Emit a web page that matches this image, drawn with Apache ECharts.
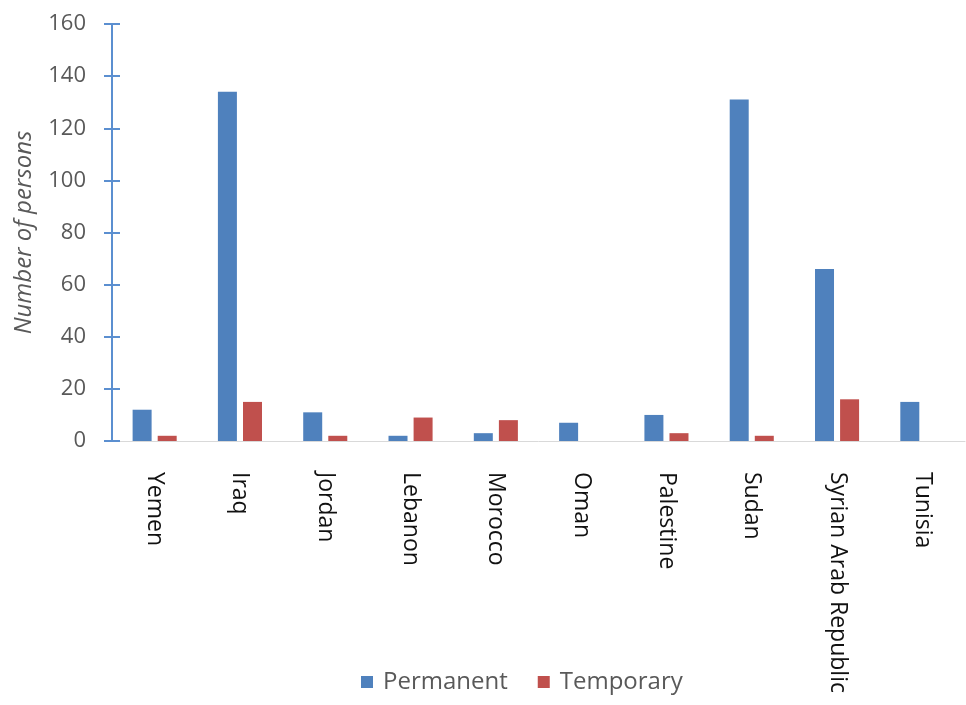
<!DOCTYPE html>
<html>
<head>
<meta charset="utf-8">
<script src="https://cdn.jsdelivr.net/npm/echarts@6/dist/echarts.min.js"></script>
<style>
  html, body { margin: 0; padding: 0; background: #fff; }
  #chart { width: 966px; height: 705px; }
</style>
</head>
<body>
<div id="chart"></div>
<script>
const countries = ['Yemen', 'Iraq', 'Jordan', 'Lebanon', 'Morocco', 'Oman', 'Palestine', 'Sudan', 'Syrian Arab Republic', 'Tunisia'];
const permanent = [12, 134, 11, 2, 3, 7, 10, 131, 66, 15];
const temporary = [2, 15, 2, 9, 8, 0, 3, 2, 16, 0];
const yTicks = { min: 0, max: 160, interval: 20 };

const chart = echarts.init(document.getElementById('chart'), null, { renderer: 'canvas' });

const fontFamily = '"Open Sans", "Noto Sans", sans-serif';

chart.setOption({
  backgroundColor: '#fff',
  animation: false,
  textStyle: { fontFamily: fontFamily },
  grid: { left: 112, right: 1, top: 24, bottom: 264, containLabel: false, outerBoundsMode: 'none' },
  legend: {
    left: 356,
    top: 665,
    itemWidth: 12,
    itemHeight: 12,
    itemGap: 30,
    icon: 'rect',
    textStyle: { fontSize: 24, color: '#595959', fontFamily: fontFamily, padding: [0, 0, 0, 5] },
    data: ['Permanent', 'Temporary']
  },
  xAxis: {
    type: 'category',
    data: countries,
    axisLine: { lineStyle: { color: '#d9d9d9', width: 1 } },
    axisTick: { show: false },
    axisLabel: { rotate: -90, interval: 0, margin: 31, fontSize: 23, color: '#111', fontFamily: fontFamily }
  },
  yAxis: [
    {
      type: 'value',
      min: yTicks.min, max: yTicks.max, interval: yTicks.interval,
      name: 'Number of persons',
      nameLocation: 'middle',
      nameGap: 76,
      nameTextStyle: { fontSize: 24, fontStyle: 'italic', color: '#595959', fontFamily: fontFamily },
      axisLine: { show: true, lineStyle: { color: '#5b8fd0', width: 2 } },
      axisTick: { show: true, length: 8, lineStyle: { color: '#5b8fd0', width: 2 } },
      axisLabel: { fontSize: 22, color: '#595959', margin: 26, fontFamily: fontFamily },
      splitLine: { show: false }
    },
    {
      type: 'value',
      position: 'left',
      min: yTicks.min, max: yTicks.max, interval: yTicks.interval,
      axisLine: { show: false },
      axisTick: { show: true, inside: true, length: 8, lineStyle: { color: '#5b8fd0', width: 2 } },
      axisLabel: { show: false },
      splitLine: { show: false }
    }
  ],
  series: [
    {
      name: 'Permanent',
      type: 'bar',
      data: permanent,
      barWidth: 19,
      barGap: '32%',
      itemStyle: { color: '#4f81bd' }
    },
    {
      name: 'Temporary',
      type: 'bar',
      data: temporary,
      barWidth: 19,
      itemStyle: { color: '#c0504d' }
    }
  ]
});
</script>
</body>
</html>
